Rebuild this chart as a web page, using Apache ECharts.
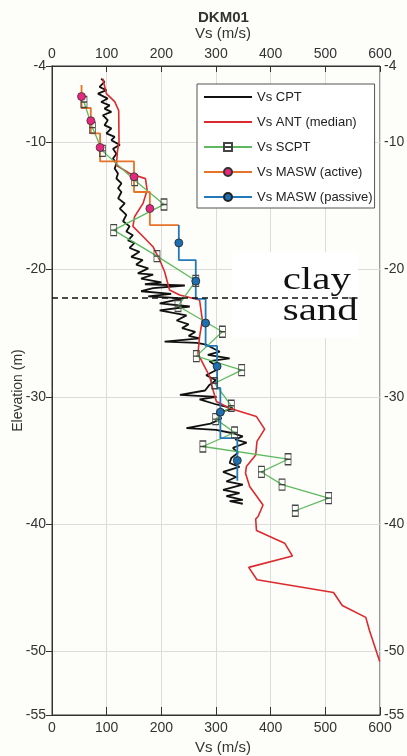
<!DOCTYPE html>
<html><head><meta charset="utf-8">
<script src="https://cdn.jsdelivr.net/npm/echarts@6/dist/echarts.min.js"></script>
<style>html,body{margin:0;padding:0;background:#fdfdf9}#c{width:407px;height:756px}</style>
</head><body><div id="c"></div>
<script>
// ---- data ----
const chartTitle = 'DKM01';
const xTicks = [0, 100, 200, 300, 400, 500, 600];
const yTickLabels = [-4, -10, -20, -30, -40, -50, -55];

const cptVs = [90,96,87,99.5,84,102,90,105.5,96,108.6,93,102,96,108.6,99.5,114.7,108.6,124,111.6,117.8,111.6,117.8,114.7,120.7,117.8,127,120.7,127,121,133,124,136,130,142,136,148,139,151,142,160,145,166,154,176,157,185,163,200,170,243,185,163,218,176,240,197,252,197,246,228,250,238,262,250,270,206,265,282,307,285,325,288,307,282,300,288,280,234,301,270,301,331,301,310,290,246,300,331,349,335,356,331,340,328,325,343,313,337,319,349,313,343,319,349,325,349];
const cptElev = [-5.0,-5.25,-5.65,-5.9,-6.17,-6.56,-6.83,-7.1,-7.35,-7.6,-7.87,-8.26,-8.65,-8.9,-9.3,-9.57,-9.83,-10.2,-10.5,-10.9,-11.27,-11.66,-12.05,-12.45,-12.84,-13.23,-13.6,-13.9,-14.4,-14.8,-15.2,-15.7,-16.2,-16.6,-17.0,-17.3,-17.7,-17.9,-18.3,-18.6,-19.0,-19.25,-19.6,-19.9,-20.3,-20.4,-20.7,-21.0,-21.15,-21.25,-21.45,-21.7,-21.9,-22.1,-22.26,-22.65,-22.9,-23.2,-23.6,-24.0,-24.3,-24.6,-24.9,-25.2,-25.4,-25.66,-25.75,-25.9,-26.45,-26.7,-26.97,-27.2,-27.75,-28.3,-28.7,-29.06,-29.5,-29.85,-30.0,-30.2,-30.6,-30.9,-31.3,-31.7,-32.1,-32.46,-32.6,-32.86,-33.1,-33.35,-33.6,-34.0,-34.4,-34.8,-35.2,-35.5,-35.9,-36.3,-36.65,-36.9,-37.3,-37.56,-37.8,-38.1,-38.2,-38.4];

const antVs = [93,99.5,114.7,122,122.6,119.6,117.8,142,171,174,166.5,151,148,166.5,184.7,197,206,215,233.6,270,275,270,267,276,288.5,294.5,300.7,325,374,389,375,372.6,355.6,354,361.6,386,377,372.6,374,425.6,439.7,359.8,375,515,531,574,581,599.5];
const antElev = [-5.0,-6.17,-6.8,-7.5,-9.96,-10.75,-11.8,-12.45,-12.85,-13.76,-14.8,-15.85,-16.6,-17.4,-18.2,-19.25,-20.17,-21.6,-22.0,-22.39,-23.96,-25.27,-26.6,-27.36,-28.4,-29.45,-30.37,-30.9,-31.55,-32.54,-33.5,-34.56,-35.48,-36.0,-37.05,-38.5,-39.4,-39.6,-40.5,-41.5,-42.5,-43.4,-44.37,-45.37,-46.39,-47.33,-48.4,-50.8];

const scptVs = [58.5,73.9,92.2,151.3,204.9,112.9,192,263,230.5,311.7,264,347,297.6,328,299.4,334,276,431.8,383,420.8,506,445];
const scptElev = [-6.83,-8.84,-10.67,-12.97,-14.88,-16.9,-18.94,-20.88,-22.86,-24.88,-26.8,-27.9,-28.93,-30.7,-31.75,-32.8,-33.9,-34.9,-35.9,-36.9,-37.96,-38.95];

const maswActiveVs = [54,71,88,150,179];
const maswActiveBounds = [-5.5,-7.3,-9.3,-11.5,-13.9,-16.5];
const maswActiveMarkerElev = [-6.4,-8.3,-10.4,-12.7,-15.2];

const maswPassiveVs = [232,263,281,302,308,339];
const maswPassiveBounds = [-16.5,-19.25,-22.3,-26.0,-29.3,-33.25,-36.6];
const maswPassiveMarkerElev = [-17.9,-20.9,-24.2,-27.6,-31.2,-35.0];

const boundaryElev = -22.2;
const boundaryVsRange = [0, 559];
const layerLabels = ['clay', 'sand'];
const layerLabelVs = 422;
const layerLabelElev = [-20.85, -23.3];
const labelBoxVs = [329, 560];
const labelBoxElev = [-18.64, -25.4];

// ---- build ----
function pairs(xs, ys) { return xs.map((x, i) => [x, ys[i]]); }
function stepData(vs, bounds, markers, tailV) {
  const out = [];
  for (let i = 0; i < vs.length; i++) {
    out.push({ value: [vs[i], bounds[i]], symbol: 'none' });
    out.push({ value: [vs[i], markers[i]] });
    out.push({ value: [vs[i], bounds[i + 1]], symbol: 'none' });
  }
  if (tailV != null) out.push({ value: [tailV, bounds[vs.length]], symbol: 'none' });
  return out;
}

const font = '"Liberation Sans", Arial, sans-serif';
const axisLabelStyle = { color: '#333', fontSize: 14, fontFamily: font };
const chart = echarts.init(document.getElementById('c'), null, { renderer: 'canvas' });

const scptSymbol = 'path://M0,0H10V10H0Z M0,10H10V20H0Z';
const noSymbolLegend = { color: 'rgba(0,0,0,0)', borderColor: 'rgba(0,0,0,0)', borderWidth: 0, opacity: 0 };

chart.setOption({
  backgroundColor: '#fdfdf9',
  animation: false,
  title: {
    text: chartTitle, left: 193, top: 5,
    textStyle: { fontSize: 15, fontWeight: 'bold', color: '#333', fontFamily: font }
  },
  grid: { left: 52, right: 27, top: 66, bottom: 41, outerBoundsMode: 'none', containLabel: false,
          show: true, borderColor: '#333', borderWidth: 1, backgroundColor: 'transparent' },
  legend: {
    data: [
      { name: 'Vs CPT', itemStyle: noSymbolLegend },
      { name: 'Vs ANT (median)', itemStyle: noSymbolLegend },
      'Vs SCPT', 'Vs MASW (active)', 'Vs MASW (passive)'
    ],
    orient: 'vertical', left: 197, top: 84,
    itemWidth: 48, itemHeight: 10, itemGap: 9,
    padding: [5, 2, 3, 6],
    backgroundColor: '#ffffff', borderColor: '#555', borderWidth: 1,
    selectedMode: false,
    textStyle: { fontSize: 13, color: '#222', fontFamily: font, lineHeight: 16 }
  },
  xAxis: [
    {
      type: 'value', position: 'bottom', min: 0, max: 600, interval: 100,
      name: 'Vs (m/s)', nameLocation: 'middle', nameGap: 24,
      nameTextStyle: { fontSize: 15, color: '#333', fontFamily: font, padding: [0, 0, 0, 14] },
      axisLine: { show: true, lineStyle: { color: '#333', width: 1 } },
      axisTick: { show: true, inside: true, length: 8, lineStyle: { color: '#333' } },
      axisLabel: Object.assign({ margin: 6 }, axisLabelStyle),
      splitLine: { show: true, lineStyle: { color: '#dcdcdc', width: 1 } }
    },
    {
      type: 'value', position: 'top', min: 0, max: 600, interval: 100,
      name: 'Vs (m/s)', nameLocation: 'middle', nameGap: 25,
      nameTextStyle: { fontSize: 15, color: '#333', fontFamily: font, padding: [0, 0, 0, 14] },
      axisLine: { show: true, lineStyle: { color: '#333', width: 1 } },
      axisTick: { show: true, inside: true, length: 6, lineStyle: { color: '#333' } },
      axisLabel: Object.assign({ margin: 5 }, axisLabelStyle),
      splitLine: { show: false }
    }
  ],
  yAxis: [
    {
      type: 'value', position: 'left', min: -55, max: -4,
      name: 'Elevation (m)', nameLocation: 'middle', nameGap: 27, nameMoveOverlap: false,
      nameTextStyle: { fontSize: 14, color: '#333', fontFamily: font },
      axisLine: { show: true, lineStyle: { color: '#999', width: 2 } },
      axisTick: { show: true, inside: false, length: 4, customValues: yTickLabels, lineStyle: { color: '#333' } },
      axisLabel: Object.assign({ margin: 6, customValues: yTickLabels }, axisLabelStyle),
      splitLine: { show: true, lineStyle: { color: '#dcdcdc', width: 1 } }
    },
    {
      type: 'value', position: 'right', min: -55, max: -4,
      axisLine: { show: true, lineStyle: { color: '#333', width: 1 } },
      axisTick: { show: true, inside: true, length: 6, customValues: yTickLabels, lineStyle: { color: '#333' } },
      axisLabel: Object.assign({ margin: 4, customValues: yTickLabels }, axisLabelStyle),
      splitLine: { show: false }
    }
  ],
  series: [
    {
      name: 'annotations', type: 'scatter', xAxisIndex: 0, yAxisIndex: 0,
      symbolSize: 1, itemStyle: { color: 'rgba(0,0,0,0)' }, silent: true,
      data: [],
      markArea: {
        silent: true,
        itemStyle: { color: '#ffffff' },
        data: [[{ coord: [labelBoxVs[0], labelBoxElev[0]] }, { coord: [labelBoxVs[1], labelBoxElev[1]] }]]
      },
      markLine: {
        silent: true, symbol: ['none', 'none'], label: { show: false },
        lineStyle: { color: '#111', type: [6, 4], width: 1.5 },
        data: [[{ coord: [boundaryVsRange[0], boundaryElev] }, { coord: [boundaryVsRange[1], boundaryElev] }]]
      }
    },
    {
      name: 'Vs CPT', type: 'line', symbol: 'none',
      data: pairs(cptVs, cptElev),
      lineStyle: { color: '#111', width: 1.8 }, itemStyle: { color: '#111' }
    },
    {
      name: 'Vs ANT (median)', type: 'line', symbol: 'none',
      data: pairs(antVs, antElev),
      lineStyle: { color: '#dc2a2e', width: 1.6 }, itemStyle: { color: '#dc2a2e' }
    },
    {
      name: 'Vs SCPT', type: 'line', symbol: scptSymbol, symbolSize: [6, 11], showSymbol: true,
      data: pairs(scptVs, scptElev),
      lineStyle: { color: '#5fba5f', width: 1.3 },
      itemStyle: { color: 'rgba(0,0,0,0)', borderColor: '#444', borderWidth: 1 }
    },
    {
      name: 'Vs MASW (active)', type: 'line', symbol: 'circle', symbolSize: 8, showSymbol: true,
      data: stepData(maswActiveVs, maswActiveBounds, maswActiveMarkerElev, maswPassiveVs[0]),
      lineStyle: { color: '#e5732a', width: 1.8 },
      itemStyle: { color: '#e8287e', borderColor: '#333', borderWidth: 0.8 }
    },
    {
      name: 'Vs MASW (passive)', type: 'line', symbol: 'circle', symbolSize: 8, showSymbol: true,
      data: stepData(maswPassiveVs, maswPassiveBounds, maswPassiveMarkerElev, null),
      lineStyle: { color: '#2479b9', width: 1.8 },
      itemStyle: { color: '#1f6fb0', borderColor: '#222', borderWidth: 0.8 }
    }
  ]
});

// layer annotations placed through the axes' own scales
const labelGraphics = layerLabels.map((t, i) => {
  const p = chart.convertToPixel({ xAxisIndex: 0, yAxisIndex: 0 }, [layerLabelVs, layerLabelElev[i]]);
  return {
    type: 'text', x: p[0], y: p[1], scaleX: 1.28, scaleY: 1, z: 50, silent: true,
    style: {
      text: t, fill: '#111', textVerticalAlign: 'middle', textAlign: 'left',
      font: '32px "Liberation Serif", "Times New Roman", serif'
    }
  };
});
chart.setOption({ graphic: labelGraphics });
</script></body></html>
